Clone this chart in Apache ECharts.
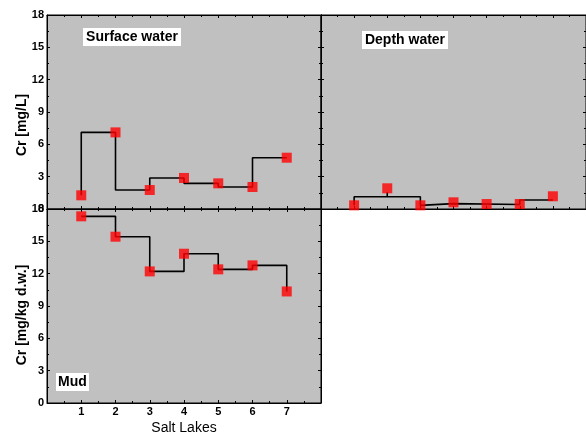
<!DOCTYPE html>
<html>
<head>
<meta charset="utf-8">
<script src="https://cdn.jsdelivr.net/npm/echarts@6/dist/echarts.min.js"></script>
<style>html,body{margin:0;padding:0;background:#fff;}#c{width:586px;height:436px;}</style>
</head>
<body>
<div id="c"></div>
<script>
var lakes = [1, 2, 3, 4, 5, 6, 7];
var surfaceWater = [1.27, 7.11, 1.76, 2.88, 2.38, 2.04, 4.76];
var depthWater = [0.34, 1.92, 0.34, 0.62, 0.46, 0.46, 1.18];
var mud = [17.32, 15.43, 12.21, 13.85, 12.4, 12.77, 10.35];
// connecting line drawn in the depth-water panel (x, y pairs in data units)
var depthLineX = [1, 1, 2, 2, 2, 3, 3, 3, 4, 4, 6, 6, 7];
var depthLineY = [0.34, 1.14, 1.14, 1.55, 1.14, 1.14, 0.34, 0.5, 0.5, 0.42, 0.42, 0.83, 0.83];
var yTicks = [0, 3, 6, 9, 12, 15, 18];

function pairs(xs, ys) { return xs.map(function (x, i) { return [x, ys[i]]; }); }

var F = '"Liberation Sans", Arial, sans-serif';
var grids = [
  {left: 47, top: 15, width: 274, height: 194},
  {left: 321, top: 15, width: 274, height: 194},
  {left: 47, top: 209, width: 274, height: 194}
].map(function (g) {
  return Object.assign({show: true, backgroundColor: '#c0c0c0', borderColor: '#000', borderWidth: 1, containLabel: false}, g);
});

function xAx(gi, pos, labels) {
  return {
    type: 'value', gridIndex: gi, position: pos, min: 0, max: 8, interval: 1,
    axisLine: {show: true, onZero: false, lineStyle: {color: '#000', width: 1}},
    axisTick: {show: true, inside: true, length: 3, lineStyle: {color: '#000'}},
    minorTick: {show: true, splitNumber: 2, length: 2, lineStyle: {color: '#000'}},
    splitLine: {show: false}, minorSplitLine: {show: false},
    axisLabel: {show: labels, margin: 3, color: '#000', fontFamily: F, fontWeight: 'bold', fontSize: 11,
      formatter: function (v) { return (v >= 1 && v <= 7) ? String(v) : ''; }}
  };
}
function yAx(gi, pos, labels) {
  return {
    type: 'value', gridIndex: gi, position: pos, min: 0, max: 18, interval: 3,
    axisLine: {show: true, onZero: false, lineStyle: {color: '#000', width: 1}},
    axisTick: {show: true, inside: true, length: 3, lineStyle: {color: '#000'}},
    minorTick: {show: true, splitNumber: 2, length: 2, lineStyle: {color: '#000'}},
    splitLine: {show: false}, minorSplitLine: {show: false},
    axisLabel: {show: labels, margin: 3, color: '#000', fontFamily: F, fontWeight: 'bold', fontSize: 11,
      showMinLabel: true, showMaxLabel: true}
  };
}

var markerStyle = {color: '#ff0000'};
var lineStyle = {color: '#000', width: 1.6};

var option = {
  animation: false,
  backgroundColor: '#fff',
  grid: grids,
  xAxis: [xAx(0, 'bottom', false), xAx(1, 'bottom', false), xAx(2, 'bottom', true),
          xAx(0, 'top', false), xAx(1, 'top', false), xAx(2, 'top', false)],
  yAxis: [yAx(0, 'left', true), yAx(1, 'left', false), yAx(2, 'left', true),
          yAx(0, 'right', false), yAx(1, 'right', false), yAx(2, 'right', false)],
  series: [
    {type: 'line', xAxisIndex: 0, yAxisIndex: 0, step: 'start', data: pairs(lakes, surfaceWater),
      showSymbol: false, symbol: 'none', lineStyle: lineStyle, z: 2},
    {type: 'scatter', xAxisIndex: 0, yAxisIndex: 0, data: pairs(lakes, surfaceWater),
      symbol: 'rect', symbolSize: 10, itemStyle: markerStyle, z: 3},
    {type: 'line', xAxisIndex: 1, yAxisIndex: 1, data: pairs(depthLineX, depthLineY),
      showSymbol: false, symbol: 'none', lineStyle: lineStyle, z: 2},
    {type: 'scatter', xAxisIndex: 1, yAxisIndex: 1, data: pairs(lakes, depthWater),
      symbol: 'rect', symbolSize: 10, itemStyle: markerStyle, z: 3},
    {type: 'line', xAxisIndex: 2, yAxisIndex: 2, step: 'end', data: pairs(lakes, mud),
      showSymbol: false, symbol: 'none', lineStyle: lineStyle, z: 2},
    {type: 'scatter', xAxisIndex: 2, yAxisIndex: 2, data: pairs(lakes, mud),
      symbol: 'rect', symbolSize: 10, itemStyle: markerStyle, z: 3}
  ],
  graphic: [
    {type: 'rect', shape: {x: 83, y: 28, width: 98, height: 18}, style: {fill: '#fff'}, z: 10},
    {type: 'text', x: 132, y: 37, style: {text: 'Surface water', fill: '#000', font: 'bold 14px ' + F, align: 'center', verticalAlign: 'middle'}, z: 11},
    {type: 'rect', shape: {x: 362, y: 31, width: 86, height: 18}, style: {fill: '#fff'}, z: 10},
    {type: 'text', x: 405, y: 40, style: {text: 'Depth water', fill: '#000', font: 'bold 14px ' + F, align: 'center', verticalAlign: 'middle'}, z: 11},
    {type: 'rect', shape: {x: 56, y: 373, width: 33, height: 18}, style: {fill: '#fff'}, z: 10},
    {type: 'text', x: 72.5, y: 382, style: {text: 'Mud', fill: '#000', font: 'bold 14px ' + F, align: 'center', verticalAlign: 'middle'}, z: 11},
    {type: 'text', x: 22, y: 125, rotation: Math.PI / 2, style: {text: 'Cr [mg/L]', fill: '#000', font: 'bold 14px ' + F, align: 'center', verticalAlign: 'middle'}, z: 11},
    {type: 'text', x: 22, y: 315, rotation: Math.PI / 2, style: {text: 'Cr [mg/kg d.w.]', fill: '#000', font: 'bold 14px ' + F, align: 'center', verticalAlign: 'middle'}, z: 11},
    {type: 'text', x: 184, y: 428, style: {text: 'Salt Lakes', fill: '#000', font: '14px ' + F, align: 'center', verticalAlign: 'middle'}, z: 11}
  ]
};
var chart = echarts.init(document.getElementById('c'), null, {renderer: 'canvas'});
chart.setOption(option);
</script>
</body>
</html>
